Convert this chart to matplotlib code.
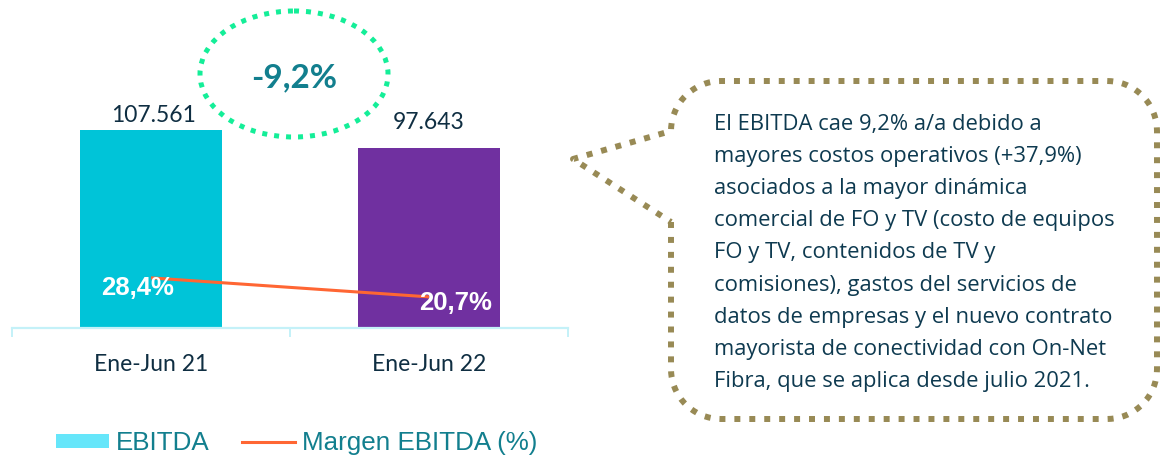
import numpy as np
import matplotlib
matplotlib.use("Agg")
import matplotlib.pyplot as plt
from matplotlib.patches import Ellipse, Patch
from matplotlib.lines import Line2D

# === DATA ===
periods = ["Ene-Jun 21", "Ene-Jun 22"]
ebitda = [107561, 97643]
ebitda_labels = ["107.561", "97.643"]
margin = [28.4, 20.7]
margin_labels = ["28,4%", "20,7%"]
change_label = "-9,2%"
note_lines = [
    "El EBITDA cae 9,2% a/a debido a",
    "mayores costos operativos (+37,9%)",
    "asociados a la mayor dinámica",
    "comercial de FO y TV (costo de equipos",
    "FO y TV, contenidos de TV y",
    "comisiones), gastos del servicios de",
    "datos de empresas y el nuevo contrato",
    "mayorista de conectividad con On-Net",
    "Fibra, que se aplica desde julio 2021.",
]

# === STYLE ===
W, H = 1160, 455
bar_colors = ["#00C4D8", "#7030A0"]
line_color = "#FF6633"
navy = "#0F2E42"
teal = "#127F8E"
axis_color = "#C4F1F8"

fig = plt.figure(figsize=(W / 100, H / 100), dpi=100)
ax = fig.add_axes([12 / W, 127 / H, 556 / W, 328 / H])

x = np.arange(len(periods))
bars = ax.bar(x, ebitda, width=0.514, color=bar_colors, zorder=2)
ax.set_xlim(-0.5, 1.5)
ax.set_ylim(0, 178170)

for sp in ["top", "left", "right"]:
    ax.spines[sp].set_visible(False)
ax.spines["bottom"].set_color(axis_color)
ax.spines["bottom"].set_linewidth(1.6)
ax.set_yticks([])
ax.set_xticks(x)
ax.set_xticklabels(periods, fontsize=16.5, fontfamily="Lato", color=navy)
ax.tick_params(axis="x", which="major", length=0, pad=19)
ax.set_xticks([-0.5, 0.5, 1.5], minor=True)
ax.tick_params(axis="x", which="minor", length=6.5, width=1.4, color=axis_color)

# value labels above bars
offsets = [3, 11]
for b, lab, off in zip(bars, ebitda_labels, offsets):
    ax.annotate(lab, (b.get_x() + b.get_width() / 2, b.get_height()),
                xytext=(2 if off == 3 else 0, off), textcoords="offset points",
                ha="center", va="bottom", fontsize=16.5, fontfamily="Lato", color=navy)

# margin line on secondary axis
ax2 = ax.twinx()
ax2.set_ylim(8.1, 140.9)
ax2.axis("off")
ax2.plot(x, margin, color=line_color, lw=2.2, zorder=3, solid_capstyle="butt")
lab_off = [(-10, -7.5), (19, -4.5)]
for xi, m, lab, off in zip(x, margin, margin_labels, lab_off):
    ax2.annotate(lab, (xi, m), xytext=off, textcoords="offset points",
                 ha="center", va="center", fontsize=18.5, fontweight="bold",
                 fontfamily="Liberation Sans", color="white", zorder=4)

# legend
handles = [Patch(facecolor="#66E6FA", edgecolor="none"),
           Line2D([0], [0], color=line_color, lw=2.2)]
fig.legend(handles, ["EBITDA", "Margen EBITDA (%)"], loc="center left",
           bbox_to_anchor=(56 / W, 1 - 443 / H), ncol=2, frameon=False,
           prop={"family": "Liberation Sans", "size": 18.7}, labelcolor=teal,
           handlelength=2.05, handleheight=0.48, handletextpad=0.25,
           columnspacing=1.25, borderpad=0, borderaxespad=0)

# overlay in pixel coordinates for the annotation shapes
ov = fig.add_axes([0, 0, 1, 1])
ov.set_xlim(0, W)
ov.set_ylim(H, 0)
ov.axis("off")

ov.add_patch(Ellipse((294, 74), 188, 126, fill=False, edgecolor="#14EE98",
                     lw=3.6, linestyle=(0, (1, 1.4))))
ov.text(294.5, 87, change_label, ha="center", va="baseline", fontsize=24,
        fontweight="bold", fontfamily="Lato", color=teal)

# speech bubble
l, r, t, btm, rad = 671, 1157, 81, 419, 50


def arc(cx, cy, a0, a1, n=20):
    a = np.radians(np.linspace(a0, a1, n))
    return list(zip(cx + rad * np.cos(a), cy + rad * np.sin(a)))


pts = []
pts += [(l, 222), (l, btm - rad)]
pts += arc(l + rad, btm - rad, 180, 90)
pts += [(r - rad, btm)]
pts += arc(r - rad, btm - rad, 90, 0)
pts += [(r, t + rad)]
pts += arc(r - rad, t + rad, 0, -90)
pts += [(l + rad, t)]
pts += arc(l + rad, t + rad, -90, -180)
pts += [(573, 159), (l, 222)]
px, py = zip(*pts)
ov.plot(px, py, color="#988A55", lw=4.3, linestyle=(0, (1, 1.5)),
        solid_joinstyle="miter")

for i, line in enumerate(note_lines):
    ov.text(714, 130 + 32.1 * i, line, ha="left", va="baseline", fontsize=15.8,
            fontfamily="Open Sans", color="#0E3A50")

fig.savefig("out.png", dpi=100)
